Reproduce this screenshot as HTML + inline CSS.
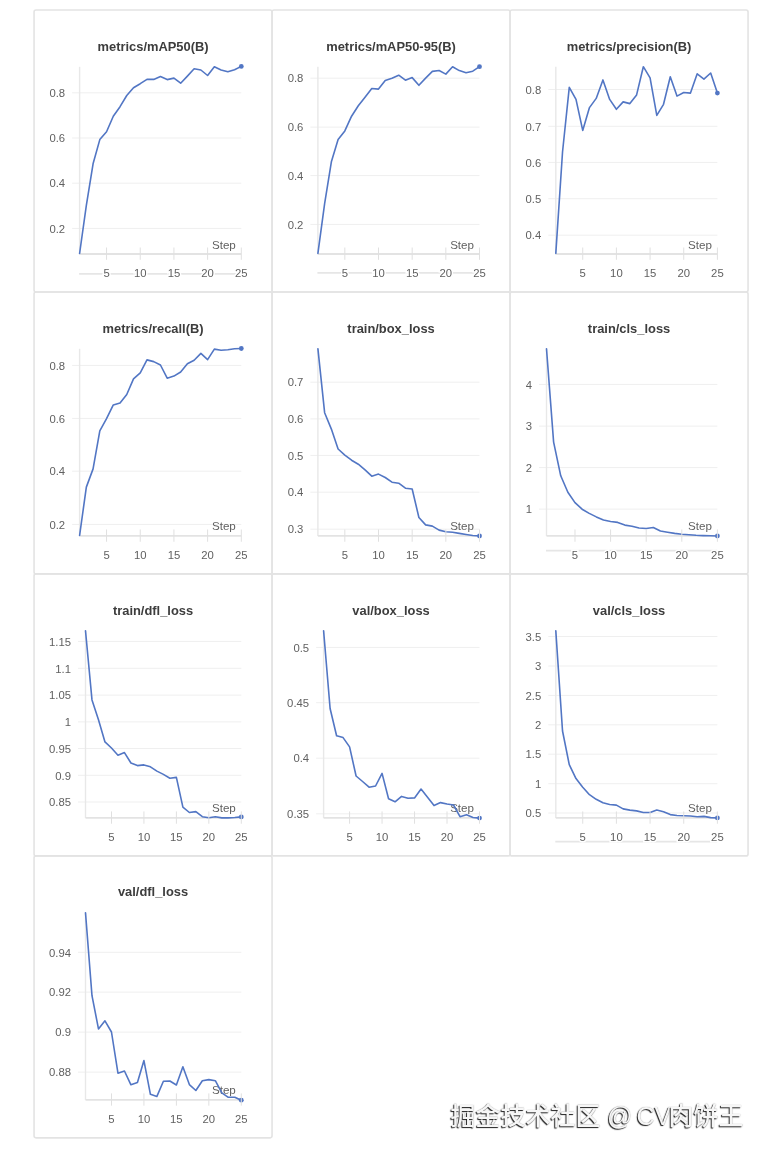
<!DOCTYPE html>
<html><head><meta charset="utf-8"><title>charts</title>
<style>
html,body{margin:0;padding:0;background:#fff;width:767px;height:1156px;overflow:hidden}
svg{display:block}
.pb{fill:none;stroke:#e3e3e3;stroke-width:1.6}
.tt{font:bold 12.9px "Liberation Sans",sans-serif;fill:#3d3d3d;text-anchor:middle}
.gl{stroke:#efefef;stroke-width:1}
.ya{stroke:#e8e8e8;stroke-width:1.4}
.xa{stroke:#e3e3e3;stroke-width:1.8}
.bl{stroke:#e6e6e6;stroke-width:1.8}
.tk{stroke:#e0e0e0;stroke-width:1}
.yl{font:11.3px "Liberation Sans",sans-serif;fill:#616161;text-anchor:end}
.xl{font:11.3px "Liberation Sans",sans-serif;fill:#616161;text-anchor:middle;stroke:#fff;stroke-width:3;paint-order:stroke}
.st{font:11.6px "Liberation Sans",sans-serif;fill:#616161;text-anchor:end}
.dl{fill:none;stroke:#5276c4;stroke-width:1.6;stroke-linejoin:round;stroke-linecap:round}
.dot{fill:#5276c4}
.wm{position:absolute;left:449px;top:1100.5px;font:500 25px "Liberation Sans","Noto Sans CJK SC",sans-serif;color:#f6f6f6;white-space:nowrap;
text-shadow:-1px 1px 1px rgba(20,20,20,.95),0 0 1px rgba(110,110,110,.7)}
.wm span{position:absolute;top:0;line-height:30px}
</style></head><body>
<svg width="767" height="1156" viewBox="0 0 767 1156">
<rect width="767" height="1156" fill="#fff"/>
<rect x="34.05" y="10" width="238" height="281.96" rx="2" class="pb"/>
<rect x="272.05" y="10" width="238" height="281.96" rx="2" class="pb"/>
<rect x="510.05" y="10" width="238" height="281.96" rx="2" class="pb"/>
<rect x="34.05" y="291.96" width="238" height="281.96" rx="2" class="pb"/>
<rect x="272.05" y="291.96" width="238" height="281.96" rx="2" class="pb"/>
<rect x="510.05" y="291.96" width="238" height="281.96" rx="2" class="pb"/>
<rect x="34.05" y="573.92" width="238" height="281.96" rx="2" class="pb"/>
<rect x="272.05" y="573.92" width="238" height="281.96" rx="2" class="pb"/>
<rect x="510.05" y="573.92" width="238" height="281.96" rx="2" class="pb"/>
<rect x="34.05" y="855.88" width="238" height="281.96" rx="2" class="pb"/>
<g><text x="153.05" y="50.6" class="tt">metrics/mAP50(B)</text><line x1="72.1" x2="241.3" y1="92.8" y2="92.8" class="gl"/><text x="65.1" y="97" class="yl">0.8</text><line x1="72.1" x2="241.3" y1="138" y2="138" class="gl"/><text x="65.1" y="142.2" class="yl">0.6</text><line x1="72.1" x2="241.3" y1="183.2" y2="183.2" class="gl"/><text x="65.1" y="187.4" class="yl">0.4</text><line x1="72.1" x2="241.3" y1="228.4" y2="228.4" class="gl"/><text x="65.1" y="232.6" class="yl">0.2</text><line x1="79.6" x2="79.6" y1="66.8" y2="254" class="ya"/><line x1="79.6" x2="241.3" y1="254" y2="254" class="xa"/><line x1="79.1" x2="241.3" y1="273.9" y2="273.9" class="bl"/><text x="235.8" y="248.5" class="st">Step</text><polyline points="79.6,253.5 86.34,205.3 93.07,163.8 99.81,139.6 106.55,131.8 113.29,116.2 120.03,106.7 126.76,95.5 133.5,87.7 140.24,83.7 146.97,79.4 153.71,79.4 160.45,76.5 167.19,79.6 173.93,78.1 180.66,83.2 187.4,76.1 194.14,68.8 200.88,70 207.61,75.5 214.35,66.7 221.09,70 227.83,71.7 234.56,69.7 241.3,66.4" class="dl"/><circle cx="241.3" cy="66.4" r="2.4" class="dot"/><line x1="106.55" x2="106.55" y1="247.5" y2="259.8" class="tk"/><text x="106.55" y="277" class="xl">5</text><line x1="140.24" x2="140.24" y1="247.5" y2="259.8" class="tk"/><text x="140.24" y="277" class="xl">10</text><line x1="173.93" x2="173.93" y1="247.5" y2="259.8" class="tk"/><text x="173.93" y="277" class="xl">15</text><line x1="207.61" x2="207.61" y1="247.5" y2="259.8" class="tk"/><text x="207.61" y="277" class="xl">20</text><line x1="241.3" x2="241.3" y1="247.5" y2="259.8" class="tk"/><text x="241.3" y="277" class="xl">25</text></g>
<g><text x="391.05" y="50.6" class="tt">metrics/mAP50-95(B)</text><line x1="310.4" x2="479.5" y1="78.2" y2="78.2" class="gl"/><text x="303.4" y="82.4" class="yl">0.8</text><line x1="310.4" x2="479.5" y1="127.1" y2="127.1" class="gl"/><text x="303.4" y="131.3" class="yl">0.6</text><line x1="310.4" x2="479.5" y1="175.6" y2="175.6" class="gl"/><text x="303.4" y="179.8" class="yl">0.4</text><line x1="310.4" x2="479.5" y1="224.4" y2="224.4" class="gl"/><text x="303.4" y="228.6" class="yl">0.2</text><line x1="317.9" x2="317.9" y1="66.8" y2="254" class="ya"/><line x1="317.9" x2="479.5" y1="254" y2="254" class="xa"/><line x1="317.4" x2="479.5" y1="272.9" y2="272.9" class="bl"/><text x="474" y="248.5" class="st">Step</text><polyline points="317.9,253.4 324.63,203.6 331.37,161.8 338.1,139.6 344.83,130.9 351.57,116.2 358.3,105.8 365.03,97.2 371.77,88.5 378.5,89.1 385.23,80.4 391.97,78.2 398.7,75.2 405.43,80.2 412.17,77.6 418.9,85.3 425.63,78.1 432.37,71.4 439.1,70.5 445.83,74.1 452.57,66.7 459.3,70.6 466.03,72.8 472.77,71.2 479.5,66.7" class="dl"/><circle cx="479.5" cy="66.7" r="2.4" class="dot"/><line x1="344.83" x2="344.83" y1="247.5" y2="259.8" class="tk"/><text x="344.83" y="277" class="xl">5</text><line x1="378.5" x2="378.5" y1="247.5" y2="259.8" class="tk"/><text x="378.5" y="277" class="xl">10</text><line x1="412.17" x2="412.17" y1="247.5" y2="259.8" class="tk"/><text x="412.17" y="277" class="xl">15</text><line x1="445.83" x2="445.83" y1="247.5" y2="259.8" class="tk"/><text x="445.83" y="277" class="xl">20</text><line x1="479.5" x2="479.5" y1="247.5" y2="259.8" class="tk"/><text x="479.5" y="277" class="xl">25</text></g>
<g><text x="629.05" y="50.6" class="tt">metrics/precision(B)</text><line x1="548.3" x2="717.4" y1="89.5" y2="89.5" class="gl"/><text x="541.3" y="93.7" class="yl">0.8</text><line x1="548.3" x2="717.4" y1="126.3" y2="126.3" class="gl"/><text x="541.3" y="130.5" class="yl">0.7</text><line x1="548.3" x2="717.4" y1="162.4" y2="162.4" class="gl"/><text x="541.3" y="166.6" class="yl">0.6</text><line x1="548.3" x2="717.4" y1="198.7" y2="198.7" class="gl"/><text x="541.3" y="202.9" class="yl">0.5</text><line x1="548.3" x2="717.4" y1="235.2" y2="235.2" class="gl"/><text x="541.3" y="239.4" class="yl">0.4</text><line x1="555.8" x2="555.8" y1="66.8" y2="254" class="ya"/><line x1="555.8" x2="717.4" y1="254" y2="254" class="xa"/><text x="711.9" y="248.5" class="st">Step</text><polyline points="555.8,253.4 562.53,152 569.27,87.3 576,99.4 582.73,130.4 589.47,107.6 596.2,98.4 602.93,79.9 609.67,99.4 616.4,109.3 623.13,101.9 629.87,103.6 636.6,94.9 643.33,66.7 650.07,77.9 656.8,115.4 663.53,104.3 670.27,76.7 677,96.1 683.73,92.5 690.47,93.1 697.2,73.8 703.93,79.1 710.67,73 717.4,93.1" class="dl"/><circle cx="717.4" cy="93.1" r="2.4" class="dot"/><line x1="582.73" x2="582.73" y1="247.5" y2="259.8" class="tk"/><text x="582.73" y="277" class="xl">5</text><line x1="616.4" x2="616.4" y1="247.5" y2="259.8" class="tk"/><text x="616.4" y="277" class="xl">10</text><line x1="650.07" x2="650.07" y1="247.5" y2="259.8" class="tk"/><text x="650.07" y="277" class="xl">15</text><line x1="683.73" x2="683.73" y1="247.5" y2="259.8" class="tk"/><text x="683.73" y="277" class="xl">20</text><line x1="717.4" x2="717.4" y1="247.5" y2="259.8" class="tk"/><text x="717.4" y="277" class="xl">25</text></g>
<g><text x="153.05" y="332.56" class="tt">metrics/recall(B)</text><line x1="72.1" x2="241.3" y1="365.4" y2="365.4" class="gl"/><text x="65.1" y="369.6" class="yl">0.8</text><line x1="72.1" x2="241.3" y1="418.4" y2="418.4" class="gl"/><text x="65.1" y="422.6" class="yl">0.6</text><line x1="72.1" x2="241.3" y1="471.2" y2="471.2" class="gl"/><text x="65.1" y="475.4" class="yl">0.4</text><line x1="72.1" x2="241.3" y1="524.4" y2="524.4" class="gl"/><text x="65.1" y="528.6" class="yl">0.2</text><line x1="79.6" x2="79.6" y1="348.76" y2="535.96" class="ya"/><line x1="79.6" x2="241.3" y1="535.96" y2="535.96" class="xa"/><text x="235.8" y="530.46" class="st">Step</text><polyline points="79.6,535.5 86.34,487.1 93.07,468.9 99.81,430.8 106.55,418.7 113.29,404.9 120.03,403.1 126.76,394.5 133.5,378.9 140.24,372.9 146.97,359.9 153.71,361.6 160.45,365 167.19,378.2 173.93,376.1 180.66,372 187.4,363.7 194.14,360.2 200.88,353.4 207.61,359.6 214.35,349.1 221.09,350.3 227.83,349.7 234.56,348.7 241.3,348.5" class="dl"/><circle cx="241.3" cy="348.5" r="2.4" class="dot"/><line x1="106.55" x2="106.55" y1="529.46" y2="541.76" class="tk"/><text x="106.55" y="558.96" class="xl">5</text><line x1="140.24" x2="140.24" y1="529.46" y2="541.76" class="tk"/><text x="140.24" y="558.96" class="xl">10</text><line x1="173.93" x2="173.93" y1="529.46" y2="541.76" class="tk"/><text x="173.93" y="558.96" class="xl">15</text><line x1="207.61" x2="207.61" y1="529.46" y2="541.76" class="tk"/><text x="207.61" y="558.96" class="xl">20</text><line x1="241.3" x2="241.3" y1="529.46" y2="541.76" class="tk"/><text x="241.3" y="558.96" class="xl">25</text></g>
<g><text x="391.05" y="332.56" class="tt">train/box_loss</text><line x1="310.4" x2="479.5" y1="382.2" y2="382.2" class="gl"/><text x="303.4" y="386.4" class="yl">0.7</text><line x1="310.4" x2="479.5" y1="418.9" y2="418.9" class="gl"/><text x="303.4" y="423.1" class="yl">0.6</text><line x1="310.4" x2="479.5" y1="455.4" y2="455.4" class="gl"/><text x="303.4" y="459.6" class="yl">0.5</text><line x1="310.4" x2="479.5" y1="492.2" y2="492.2" class="gl"/><text x="303.4" y="496.4" class="yl">0.4</text><line x1="310.4" x2="479.5" y1="529.2" y2="529.2" class="gl"/><text x="303.4" y="533.4" class="yl">0.3</text><line x1="317.9" x2="317.9" y1="348.76" y2="535.96" class="ya"/><line x1="317.9" x2="479.5" y1="535.96" y2="535.96" class="xa"/><text x="474" y="530.46" class="st">Step</text><polyline points="317.9,348.7 324.63,412.7 331.37,429.1 338.1,449 344.83,455.1 351.57,460.2 358.3,464.2 365.03,469.8 371.77,476.2 378.5,474.1 385.23,477.5 391.97,482.2 398.7,483.2 405.43,488.2 412.17,489 418.9,517.5 425.63,524.9 432.37,526.1 439.1,530.1 445.83,531.8 452.57,532.2 459.3,533.4 466.03,534.5 472.77,535.5 479.5,536" class="dl"/><circle cx="479.5" cy="536" r="2.4" class="dot"/><line x1="344.83" x2="344.83" y1="529.46" y2="541.76" class="tk"/><text x="344.83" y="558.96" class="xl">5</text><line x1="378.5" x2="378.5" y1="529.46" y2="541.76" class="tk"/><text x="378.5" y="558.96" class="xl">10</text><line x1="412.17" x2="412.17" y1="529.46" y2="541.76" class="tk"/><text x="412.17" y="558.96" class="xl">15</text><line x1="445.83" x2="445.83" y1="529.46" y2="541.76" class="tk"/><text x="445.83" y="558.96" class="xl">20</text><line x1="479.5" x2="479.5" y1="529.46" y2="541.76" class="tk"/><text x="479.5" y="558.96" class="xl">25</text></g>
<g><text x="629.05" y="332.56" class="tt">train/cls_loss</text><line x1="539" x2="717.4" y1="384.4" y2="384.4" class="gl"/><text x="532" y="388.6" class="yl">4</text><line x1="539" x2="717.4" y1="426.1" y2="426.1" class="gl"/><text x="532" y="430.3" class="yl">3</text><line x1="539" x2="717.4" y1="467.6" y2="467.6" class="gl"/><text x="532" y="471.8" class="yl">2</text><line x1="539" x2="717.4" y1="509.1" y2="509.1" class="gl"/><text x="532" y="513.3" class="yl">1</text><line x1="546.5" x2="546.5" y1="348.76" y2="535.96" class="ya"/><line x1="546.5" x2="717.4" y1="535.96" y2="535.96" class="xa"/><line x1="546" x2="717.4" y1="550.7" y2="550.7" class="bl"/><text x="711.9" y="530.46" class="st">Step</text><polyline points="546.5,348.7 553.62,442.1 560.74,475.8 567.86,492.2 574.98,502.6 582.1,509.2 589.23,513.4 596.35,516.9 603.47,520 610.59,521.5 617.71,522.4 624.83,525.1 631.95,526.3 639.07,528 646.19,528.5 653.31,527.5 660.43,531 667.55,532.2 674.67,533.4 681.8,534.2 688.92,534.7 696.04,535.3 703.16,535.6 710.28,535.8 717.4,536" class="dl"/><circle cx="717.4" cy="536" r="2.4" class="dot"/><line x1="574.98" x2="574.98" y1="529.46" y2="541.76" class="tk"/><text x="574.98" y="558.96" class="xl">5</text><line x1="610.59" x2="610.59" y1="529.46" y2="541.76" class="tk"/><text x="610.59" y="558.96" class="xl">10</text><line x1="646.19" x2="646.19" y1="529.46" y2="541.76" class="tk"/><text x="646.19" y="558.96" class="xl">15</text><line x1="681.8" x2="681.8" y1="529.46" y2="541.76" class="tk"/><text x="681.8" y="558.96" class="xl">20</text><line x1="717.4" x2="717.4" y1="529.46" y2="541.76" class="tk"/><text x="717.4" y="558.96" class="xl">25</text></g>
<g><text x="153.05" y="614.52" class="tt">train/dfl_loss</text><line x1="78" x2="241.3" y1="641.4" y2="641.4" class="gl"/><text x="71" y="645.6" class="yl">1.15</text><line x1="78" x2="241.3" y1="668.3" y2="668.3" class="gl"/><text x="71" y="672.5" class="yl">1.1</text><line x1="78" x2="241.3" y1="695.1" y2="695.1" class="gl"/><text x="71" y="699.3" class="yl">1.05</text><line x1="78" x2="241.3" y1="721.9" y2="721.9" class="gl"/><text x="71" y="726.1" class="yl">1</text><line x1="78" x2="241.3" y1="748.5" y2="748.5" class="gl"/><text x="71" y="752.7" class="yl">0.95</text><line x1="78" x2="241.3" y1="775.3" y2="775.3" class="gl"/><text x="71" y="779.5" class="yl">0.9</text><line x1="78" x2="241.3" y1="802" y2="802" class="gl"/><text x="71" y="806.2" class="yl">0.85</text><line x1="85.5" x2="85.5" y1="630.72" y2="817.92" class="ya"/><line x1="85.5" x2="241.3" y1="817.92" y2="817.92" class="xa"/><text x="235.8" y="812.42" class="st">Step</text><polyline points="85.5,630.7 91.99,699.9 98.48,719.8 104.97,741.9 111.47,748 117.96,755.2 124.45,752.6 130.94,763 137.43,765.6 143.93,764.9 150.42,766.8 156.91,771.1 163.4,774.4 169.89,778.2 176.38,777.4 182.88,807.2 189.37,812.5 195.86,811.6 202.35,816.7 208.84,817.7 215.33,816.7 221.83,817.9 228.32,817.9 234.81,817.5 241.3,816.9" class="dl"/><circle cx="241.3" cy="816.9" r="2.4" class="dot"/><line x1="111.47" x2="111.47" y1="811.42" y2="823.72" class="tk"/><text x="111.47" y="840.92" class="xl">5</text><line x1="143.93" x2="143.93" y1="811.42" y2="823.72" class="tk"/><text x="143.93" y="840.92" class="xl">10</text><line x1="176.38" x2="176.38" y1="811.42" y2="823.72" class="tk"/><text x="176.38" y="840.92" class="xl">15</text><line x1="208.84" x2="208.84" y1="811.42" y2="823.72" class="tk"/><text x="208.84" y="840.92" class="xl">20</text><line x1="241.3" x2="241.3" y1="811.42" y2="823.72" class="tk"/><text x="241.3" y="840.92" class="xl">25</text></g>
<g><text x="391.05" y="614.52" class="tt">val/box_loss</text><line x1="316.1" x2="479.5" y1="647.4" y2="647.4" class="gl"/><text x="309.1" y="651.6" class="yl">0.5</text><line x1="316.1" x2="479.5" y1="702.7" y2="702.7" class="gl"/><text x="309.1" y="706.9" class="yl">0.45</text><line x1="316.1" x2="479.5" y1="758.2" y2="758.2" class="gl"/><text x="309.1" y="762.4" class="yl">0.4</text><line x1="316.1" x2="479.5" y1="813.8" y2="813.8" class="gl"/><text x="309.1" y="818" class="yl">0.35</text><line x1="323.6" x2="323.6" y1="630.72" y2="817.92" class="ya"/><line x1="323.6" x2="479.5" y1="817.92" y2="817.92" class="xa"/><text x="474" y="812.42" class="st">Step</text><polyline points="323.6,630.7 330.1,708.5 336.59,735.8 343.09,737.6 349.58,746.9 356.08,776 362.58,781.5 369.07,787.2 375.57,786 382.06,773.4 388.56,798.8 395.05,801.8 401.55,796.4 408.05,798.3 414.54,797.9 421.04,789.1 427.53,797.2 434.03,805.6 440.52,802.6 447.02,804 453.52,805 460.01,816.7 466.51,814.8 473,817.5 479.5,818.1" class="dl"/><circle cx="479.5" cy="818.1" r="2.4" class="dot"/><line x1="349.58" x2="349.58" y1="811.42" y2="823.72" class="tk"/><text x="349.58" y="840.92" class="xl">5</text><line x1="382.06" x2="382.06" y1="811.42" y2="823.72" class="tk"/><text x="382.06" y="840.92" class="xl">10</text><line x1="414.54" x2="414.54" y1="811.42" y2="823.72" class="tk"/><text x="414.54" y="840.92" class="xl">15</text><line x1="447.02" x2="447.02" y1="811.42" y2="823.72" class="tk"/><text x="447.02" y="840.92" class="xl">20</text><line x1="479.5" x2="479.5" y1="811.42" y2="823.72" class="tk"/><text x="479.5" y="840.92" class="xl">25</text></g>
<g><text x="629.05" y="614.52" class="tt">val/cls_loss</text><line x1="548.3" x2="717.4" y1="636.5" y2="636.5" class="gl"/><text x="541.3" y="640.7" class="yl">3.5</text><line x1="548.3" x2="717.4" y1="666" y2="666" class="gl"/><text x="541.3" y="670.2" class="yl">3</text><line x1="548.3" x2="717.4" y1="695.4" y2="695.4" class="gl"/><text x="541.3" y="699.6" class="yl">2.5</text><line x1="548.3" x2="717.4" y1="724.8" y2="724.8" class="gl"/><text x="541.3" y="729" class="yl">2</text><line x1="548.3" x2="717.4" y1="754.2" y2="754.2" class="gl"/><text x="541.3" y="758.4" class="yl">1.5</text><line x1="548.3" x2="717.4" y1="783.7" y2="783.7" class="gl"/><text x="541.3" y="787.9" class="yl">1</text><line x1="548.3" x2="717.4" y1="813" y2="813" class="gl"/><text x="541.3" y="817.2" class="yl">0.5</text><line x1="555.8" x2="555.8" y1="630.72" y2="817.92" class="ya"/><line x1="555.8" x2="717.4" y1="817.92" y2="817.92" class="xa"/><line x1="555.3" x2="717.4" y1="841.7" y2="841.7" class="bl"/><text x="711.9" y="812.42" class="st">Step</text><polyline points="555.8,630.7 562.53,731 569.27,764.7 576,778.6 582.73,787.2 589.47,794.7 596.2,799.3 602.93,802.8 609.67,804.5 616.4,805.1 623.13,808.9 629.87,810.1 636.6,810.9 643.33,812.5 650.07,812.5 656.8,810 663.53,811.7 670.27,814.6 677,815.5 683.73,815.8 690.47,816 697.2,816.8 703.93,816.4 710.67,817.6 717.4,817.9" class="dl"/><circle cx="717.4" cy="817.9" r="2.4" class="dot"/><line x1="582.73" x2="582.73" y1="811.42" y2="823.72" class="tk"/><text x="582.73" y="840.92" class="xl">5</text><line x1="616.4" x2="616.4" y1="811.42" y2="823.72" class="tk"/><text x="616.4" y="840.92" class="xl">10</text><line x1="650.07" x2="650.07" y1="811.42" y2="823.72" class="tk"/><text x="650.07" y="840.92" class="xl">15</text><line x1="683.73" x2="683.73" y1="811.42" y2="823.72" class="tk"/><text x="683.73" y="840.92" class="xl">20</text><line x1="717.4" x2="717.4" y1="811.42" y2="823.72" class="tk"/><text x="717.4" y="840.92" class="xl">25</text></g>
<g><text x="153.05" y="896.48" class="tt">val/dfl_loss</text><line x1="78" x2="241.3" y1="952.3" y2="952.3" class="gl"/><text x="71" y="956.5" class="yl">0.94</text><line x1="78" x2="241.3" y1="992.1" y2="992.1" class="gl"/><text x="71" y="996.3" class="yl">0.92</text><line x1="78" x2="241.3" y1="1032.1" y2="1032.1" class="gl"/><text x="71" y="1036.3" class="yl">0.9</text><line x1="78" x2="241.3" y1="1072.1" y2="1072.1" class="gl"/><text x="71" y="1076.3" class="yl">0.88</text><line x1="85.5" x2="85.5" y1="912.68" y2="1099.88" class="ya"/><line x1="85.5" x2="241.3" y1="1099.88" y2="1099.88" class="xa"/><text x="235.8" y="1094.38" class="st">Step</text><polyline points="85.5,912.7 91.99,995.7 98.48,1028.9 104.97,1020.8 111.47,1032 117.96,1073.2 124.45,1071 130.94,1084.8 137.43,1082.6 143.93,1060.6 150.42,1094.3 156.91,1096.4 163.4,1081.3 169.89,1081 176.38,1085 182.88,1066.7 189.37,1084.6 195.86,1090.5 202.35,1080.7 208.84,1079.6 215.33,1080.7 221.83,1092.8 228.32,1097.3 234.81,1097.2 241.3,1100.2" class="dl"/><circle cx="241.3" cy="1100.2" r="2.4" class="dot"/><line x1="111.47" x2="111.47" y1="1093.38" y2="1105.68" class="tk"/><text x="111.47" y="1122.88" class="xl">5</text><line x1="143.93" x2="143.93" y1="1093.38" y2="1105.68" class="tk"/><text x="143.93" y="1122.88" class="xl">10</text><line x1="176.38" x2="176.38" y1="1093.38" y2="1105.68" class="tk"/><text x="176.38" y="1122.88" class="xl">15</text><line x1="208.84" x2="208.84" y1="1093.38" y2="1105.68" class="tk"/><text x="208.84" y="1122.88" class="xl">20</text><line x1="241.3" x2="241.3" y1="1093.38" y2="1105.68" class="tk"/><text x="241.3" y="1122.88" class="xl">25</text></g>
</svg>
<div class="wm"><span style="left:1.5px">掘金技术社区</span> <span style="left:158px">@</span> <span style="left:187.5px">CV</span><span style="left:219.5px">肉饼王</span></div>
</body></html>
